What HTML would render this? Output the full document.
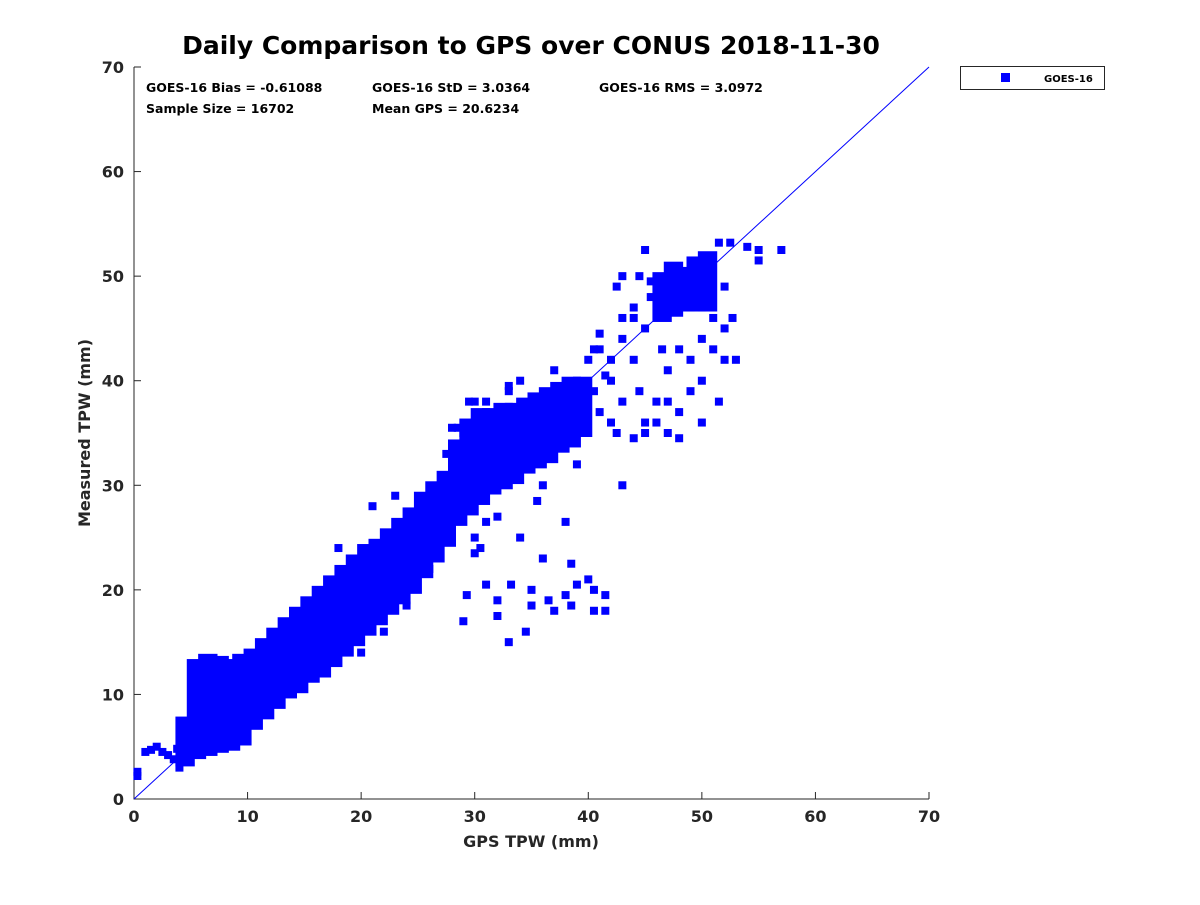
<!DOCTYPE html>
<html><head><meta charset="utf-8"><style>
body{margin:0;background:#fff;}
svg text{font-family:"DejaVu Sans","Liberation Sans",sans-serif;font-weight:bold;fill:#262626;}
svg text.blk{fill:#000;}
</style></head><body>
<svg id="chart" width="1200" height="900" xmlns="http://www.w3.org/2000/svg">
<rect width="1200" height="900" fill="#fff"/>
<text class="blk" x="531" y="54" text-anchor="middle" font-size="25">Daily Comparison to GPS over CONUS 2018-11-30</text>
<g id="axes"></g>
<g id="marks"></g>
<text class="blk" x="146" y="92" font-size="12.5">GOES-16 Bias = -0.61088</text>
<text class="blk" x="372" y="92" font-size="12.5">GOES-16 StD = 3.0364</text>
<text class="blk" x="599" y="92" font-size="12.5">GOES-16 RMS = 3.0972</text>
<text class="blk" x="146" y="113" font-size="12.5">Sample Size = 16702</text>
<text class="blk" x="372" y="113" font-size="12.5">Mean GPS = 20.6234</text>
<g>
<rect x="960.5" y="66.5" width="144" height="23" fill="#fff" stroke="#262626" stroke-width="1"/>
<rect x="1001" y="73" width="9" height="9" fill="#0000ff"/>
<text class="blk" x="1044" y="82" font-size="10">GOES-16</text>
</g>
<text x="531" y="847" text-anchor="middle" font-size="16">GPS TPW (mm)</text>
<text transform="translate(90,433) rotate(-90)" text-anchor="middle" font-size="16">Measured TPW (mm)</text>
</svg>
<script>
const xTicks=[0,10,20,30,40,50,60,70];
const yTicks=[0,10,20,30,40,50,60,70];
// dense band envelope per GPS bin: center, low, high measured
const binGps=[4.5,5.5,6.5,7.5,8.5,9.5,10.5,11.5,12.5,13.5,14.5,15.5,16.5,17.5,18.5,19.5,20.5,21.5,22.5,23.5,24.5,25.5,26.5,27.5,28.5,29.5,30.5,31.5,32.5,33.5,34.5,35.5,36.5,37.5,38.5,39.5,46.5,47.5,48.5,49.5,50.5];
const binLow=[3.5,4.2,4.5,4.8,5,5.5,7,8,9,10,10.5,11.5,12,13,14,15,16,17,18,19,20,21.5,23,24.5,26.5,27.5,28.5,29.5,30,30.5,31.5,32,32.5,33.5,34,35,46,46.5,47,47,47];
const binHigh=[7.5,13,13.5,13.3,13,13.5,14,15,16,17,18,19,20,21,22,23,24,24.5,25.5,26.5,27.5,29,30,31,34,36,37,37,37.5,37.5,38,38.5,39,39.5,40,40,50,51,50.5,51.5,52];
// scattered individual points
const gpsPts=[0.3,0.3,1,1.5,2,2.5,3,3.5,3.8,4,29,29.3,31,32,32,33,34.5,35,35,36.5,37,38,38.5,39,38.5,40,40.5,40.5,41.5,41.5,36,34,31,30,32,35.5,38,43,33.2,30,55,55,57,54,28,30,33,40.5,41,41.5,42,42,43,43,44,44.5,44,45,41,42.5,43,44,42.5,45,46,47,47,48,48,49,50,49,50,51,51,52,52,51.5,52,52.5,51.5,45,46,47,46.5,48,50,53,52.7,45.5,44.5,43,45,27.5,29,30.5,42,40,41,40.5,44,45.5,28,28.5,29.5,31,33,36,39,37,34,26,24,22,20,18,21,23];
const tpwPts=[2.2,2.6,4.5,4.7,5,4.5,4.2,3.8,4.8,3,17,19.5,20.5,19,17.5,15,16,18.5,20,19,18,19.5,18.5,20.5,22.5,21,20,18,18,19.5,23,25,26.5,25,27,28.5,26.5,30,20.5,23.5,52.5,51.5,52.5,52.8,35.5,38,39.5,39,37,40.5,36,42,38,44,42,39,34.5,36,43,35,46,47,49,45,36,38,35,37,34.5,39,40,42,36,43,46,45,42,38,49,53.2,53.2,35,38,41,43,43,44,42,46,48,50,50,52.5,33,35,24,40,42,44.5,43,46,49.5,25.5,35.5,38,38,39,30,32,41,40,22,18.5,16,14,24,28,29];
const X0=134,X1=929,Y0=799,Y1=67;
const xs=v=>X0+(X1-X0)*v/70, ys=v=>Y0-(Y0-Y1)*v/70;
const NS="http://www.w3.org/2000/svg";
const axes=document.getElementById('axes'), marks=document.getElementById('marks');
function mk(tag,attrs,parent){const e=document.createElementNS(NS,tag);for(const k in attrs)e.setAttribute(k,attrs[k]);parent.appendChild(e);return e;}
let ax=mk('path',{d:`M${X0},${Y1}V${Y0}H${X1}`,fill:'none',stroke:'#262626','stroke-width':1},axes);


xTicks.forEach(t=>{
  const l=mk('line',{x1:xs(t),x2:xs(t),y1:Y0,y2:Y0-7,stroke:'#262626'},axes);
  
  
  const tx=mk('text',{x:xs(t),y:Y0+23,'text-anchor':'middle','font-size':16},axes);
  tx.textContent=t;
  
  
});
yTicks.forEach(t=>{
  const l=mk('line',{x1:X0,x2:X0+7,y1:ys(t),y2:ys(t),stroke:'#262626'},axes);
  
  
  const tx=mk('text',{x:X0-10,y:ys(t)+6,'text-anchor':'end','font-size':16},axes);
  tx.textContent=t;
  
  
});
const m=4;
binGps.forEach((g,i)=>{
  const r=mk('rect',{x:xs(g-0.5)-m,y:ys(binHigh[i])-m,width:xs(g+0.5)-xs(g-0.5)+2*m,height:ys(binLow[i])-ys(binHigh[i])+2*m,fill:'#0000ff'},marks);
  
  
});
gpsPts.forEach((g,i)=>{
  const r=mk('rect',{x:xs(g)-m,y:ys(tpwPts[i])-m,width:2*m,height:2*m,fill:'#0000ff'},marks);
  
  
});
const d=mk('line',{x1:xs(0),y1:ys(0),x2:xs(70),y2:ys(70),stroke:'#0000ff','stroke-width':1},marks);


</script>
</body></html>
